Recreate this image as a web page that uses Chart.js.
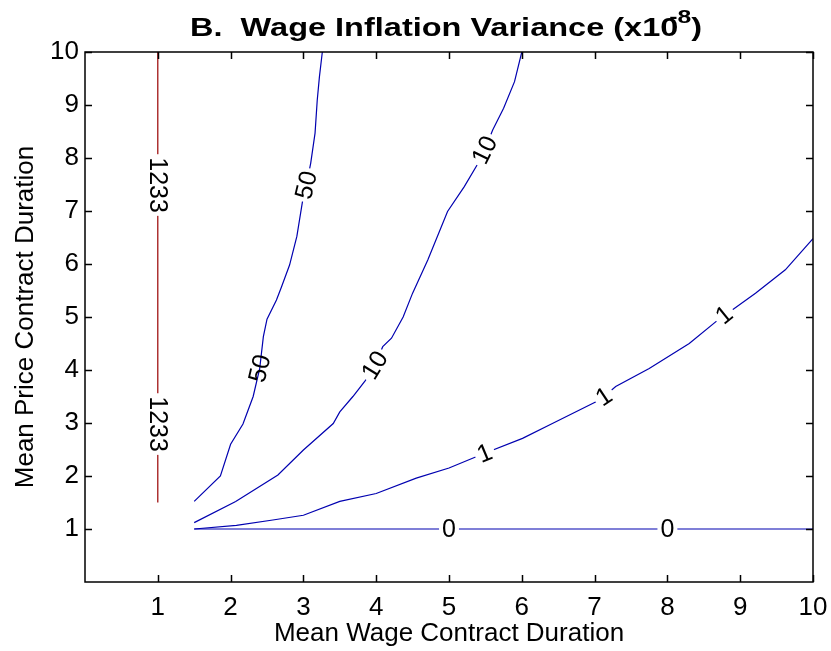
<!DOCTYPE html>
<html>
<head>
<meta charset="utf-8">
<script src="https://cdn.jsdelivr.net/npm/chart.js@4.4.1/dist/chart.umd.min.js"></script>
<style>
  html, body { margin: 0; padding: 0; background: #fff; }
</style>
</head>
<body>
<canvas id="contourChart" width="831" height="651"></canvas>
<script>
// contour lines (x = wage duration, y = price duration)
const level0X = [1.5, 10];
const level0Y = [1, 1];

const level1X = [1.5, 2.08, 2.58, 3.0, 3.5, 4.0, 4.55, 5.0, 5.49, 6.01, 6.42, 7.02, 7.13, 7.29, 7.75, 8.3, 8.78, 8.89, 9.21, 9.62, 10];
const level1Y = [1.0, 1.07, 1.17, 1.26, 1.52, 1.67, 1.96, 2.15, 2.43, 2.71, 2.99, 3.4, 3.5, 3.69, 4.03, 4.5, 5.04, 5.13, 5.45, 5.89, 6.48];

const level10X = [1.5, 2.07, 2.65, 3.0, 3.41, 3.5, 3.68, 3.85, 3.98, 4.09, 4.21, 4.37, 4.5, 4.71, 4.98, 5.21, 5.4, 5.49, 5.6, 5.75, 5.9, 6.0];
const level10Y = [1.12, 1.52, 2.02, 2.49, 2.99, 3.21, 3.5, 3.8, 4.09, 4.44, 4.6, 5.0, 5.45, 6.08, 6.99, 7.46, 7.9, 8.15, 8.53, 8.94, 9.44, 10];

const level50X = [1.5, 1.86, 2.0, 2.17, 2.31, 2.40, 2.45, 2.5, 2.63, 2.7, 2.81, 2.91, 2.99, 3.04, 3.1, 3.16, 3.19, 3.22, 3.26];
const level50Y = [1.52, 2.0, 2.6, 2.98, 3.5, 4.03, 4.63, 4.96, 5.32, 5.57, 5.98, 6.52, 7.2, 7.49, 7.9, 8.47, 9.09, 9.53, 10];

const level1233X = [1, 1];
const level1233Y = [1.5, 10];

// inline labels: level, position, whether the line is cut under it
const labelLevels = ["1233", "1233", "50", "50", "10", "10", "1", "1", "1", "0", "0"];
const labelX = [1, 1, 2.40, 3.04, 3.98, 5.49, 5.49, 7.13, 8.78, 5.0, 8.0];
const labelY = [7.49, 2.98, 4.03, 7.49, 4.09, 8.15, 2.43, 3.5, 5.04, 1, 1];
const labelGap = [true, true, false, true, true, true, true, true, true, true, true];

const tickValues = [1, 2, 3, 4, 5, 6, 7, 8, 9, 10];

const titleMain = "B.  Wage Inflation Variance (x10";
const titleSup = "-8";
const titleEnd = ")";
const xTitle = "Mean Wage Contract Duration";
const yTitle = "Mean Price Contract Duration";

const FAMILY = "'Liberation Sans', Arial, Helvetica, sans-serif";
const BLUE = "#0000b0";
const RED = "#990000";

function pairs(xs, ys) {
  return xs.map((x, i) => ({ x, y: ys[i] }));
}

const lines = [
  { level: "0", data: pairs(level0X, level0Y), color: BLUE },
  { level: "1", data: pairs(level1X, level1Y), color: BLUE },
  { level: "10", data: pairs(level10X, level10Y), color: BLUE },
  { level: "50", data: pairs(level50X, level50Y), color: BLUE },
  { level: "1233", data: pairs(level1233X, level1233Y), color: RED }
];

// angle of the nearest segment, in pixels, kept readable
function segmentAngle(points, px, py) {
  let best = Infinity, angle = 0;
  for (let i = 0; i < points.length - 1; i++) {
    const a = points[i], b = points[i + 1];
    const dx = b.x - a.x, dy = b.y - a.y;
    const len2 = dx * dx + dy * dy || 1;
    let t = ((px - a.x) * dx + (py - a.y) * dy) / len2;
    t = Math.max(0, Math.min(1, t));
    const cx = a.x + t * dx - px, cy = a.y + t * dy - py;
    const d = cx * cx + cy * cy;
    if (d < best) {
      best = d;
      angle = Math.atan2(dy, dx);
    }
  }
  if (angle <= -Math.PI / 2) angle += Math.PI;
  if (angle > Math.PI / 2) angle -= Math.PI;
  return angle;
}

const contourLabels = {
  id: "contourLabels",
  afterDatasetsDraw(chart) {
    const { ctx, scales: { x, y } } = chart;
    ctx.save();
    ctx.font = "25px " + FAMILY;
    ctx.textAlign = "center";
    ctx.textBaseline = "middle";
    labelLevels.forEach((lev, i) => {
      const line = lines.find(l => l.level === lev);
      const pts = line.data.map(p => ({ x: x.getPixelForValue(p.x), y: y.getPixelForValue(p.y) }));
      const px = x.getPixelForValue(labelX[i]);
      const py = y.getPixelForValue(labelY[i]);
      const ang = segmentAngle(pts, px, py);
      const w = ctx.measureText(lev).width;
      ctx.save();
      ctx.translate(px, py);
      ctx.rotate(ang);
      if (labelGap[i]) {
        ctx.fillStyle = "#fff";
        ctx.fillRect(-w / 2 - 3, -11, w + 6, 22);
      }
      ctx.fillStyle = "#000";
      ctx.fillText(lev, 0, 1);
      ctx.restore();
    });
    ctx.restore();
  },
  afterDraw(chart) {
    const { ctx, chartArea: a, scales: { x, y } } = chart;
    ctx.save();
    // box and inward ticks on every side
    ctx.strokeStyle = "#000";
    ctx.lineWidth = 1.5;
    ctx.strokeRect(a.left, a.top, a.right - a.left, a.bottom - a.top);
    ctx.beginPath();
    tickValues.forEach(v => {
      const px = Math.round(x.getPixelForValue(v)) + 0.5;
      ctx.moveTo(px, a.bottom); ctx.lineTo(px, a.bottom - 7);
      ctx.moveTo(px, a.top); ctx.lineTo(px, a.top + 7);
      const py = Math.round(y.getPixelForValue(v)) + 0.5;
      ctx.moveTo(a.left, py); ctx.lineTo(a.left + 7, py);
      ctx.moveTo(a.right, py); ctx.lineTo(a.right - 7, py);
    });
    ctx.stroke();

    // title with superscript, drawn a little wide like the original
    const stretch = 1.3;
    ctx.fillStyle = "#000";
    ctx.textBaseline = "alphabetic";
    ctx.textAlign = "left";
    ctx.font = "bold 25px " + FAMILY;
    const wMain = ctx.measureText(titleMain).width;
    const wEnd = ctx.measureText(titleEnd).width;
    ctx.font = "bold 19px " + FAMILY;
    const wSup = ctx.measureText(titleSup).width;
    const supShift = -7;
    const total = (wMain + supShift + wSup + wEnd) * stretch;
    const cx = (a.left + a.right) / 2 - 3;
    ctx.translate(cx - total / 2, 36);
    ctx.scale(stretch, 1);
    ctx.font = "bold 25px " + FAMILY;
    ctx.fillText(titleMain, 0, 0);
    ctx.fillText(titleEnd, wMain + supShift + wSup, 0);
    ctx.font = "bold 19px " + FAMILY;
    ctx.fillText(titleSup, wMain + supShift, -13);
    ctx.restore();
  }
};

const tickFont = { family: FAMILY, size: 26 };

new Chart(document.getElementById("contourChart"), {
  type: "scatter",
  data: {
    datasets: lines.map(l => ({
      label: l.level,
      data: l.data,
      showLine: true,
      borderColor: l.color,
      borderWidth: 1.2,
      pointRadius: 0,
      tension: 0,
      fill: false
    }))
  },
  options: {
    responsive: false,
    animation: false,
    devicePixelRatio: 1,
    layout: { padding: { top: 52, right: 18, left: 0, bottom: 0 } },
    plugins: {
      legend: { display: false },
      tooltip: { enabled: false },
      title: { display: false }
    },
    scales: {
      x: {
        type: "linear",
        min: 0,
        max: 10,
        afterFit(s) {
          s.height = 69;
          s.paddingLeft = 0;
          s.paddingRight = 0;
        },
        ticks: {
          stepSize: 1,
          autoSkip: false,
          maxRotation: 0,
          padding: 10,
          color: "#000",
          font: tickFont,
          callback: v => (v === 0 ? "" : v)
        },
        grid: { display: false, drawTicks: false },
        border: { display: false },
        title: { display: true, text: xTitle, color: "#000", font: tickFont, padding: { top: 0, bottom: 2 } }
      },
      y: {
        type: "linear",
        min: 0,
        max: 10,
        afterFit(s) {
          s.width = 85;
          s.paddingTop = 0;
          s.paddingBottom = 0;
        },
        ticks: {
          stepSize: 1,
          autoSkip: false,
          padding: 6,
          color: "#000",
          font: tickFont,
          callback: v => (v === 0 ? "" : v)
        },
        grid: { display: false, drawTicks: false },
        border: { display: false },
        title: { display: true, text: yTitle, color: "#000", font: tickFont, padding: { top: 10, bottom: 0 } }
      }
    }
  },
  plugins: [contourLabels]
});
</script>
</body>
</html>
